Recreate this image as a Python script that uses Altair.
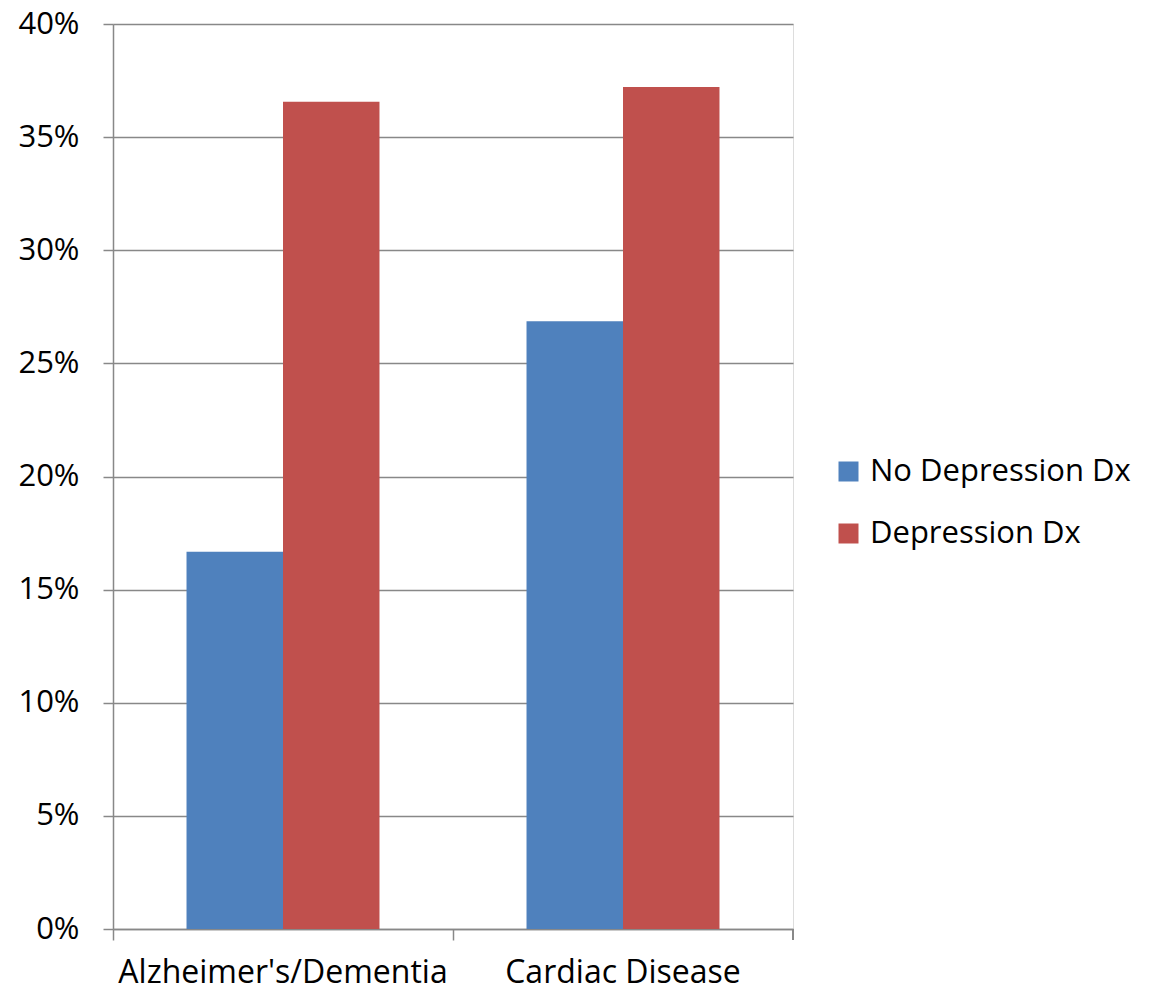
import altair as alt
import pandas as pd

categories = ["Alzheimer's/Dementia", "Cardiac Disease"]
series = ["No Depression Dx", "Depression Dx"]
no_depression = [0.1667, 0.2686]
depression = [0.3656, 0.3722]
colors = ["#4F81BD", "#C0504D"]
y_ticks = [0, 0.05, 0.10, 0.15, 0.20, 0.25, 0.30, 0.35, 0.40]

rows = []
for i, c in enumerate(categories):
    rows.append({"category": c, "series": series[0], "value": no_depression[i]})
    rows.append({"category": c, "series": series[1], "value": depression[i]})
df = pd.DataFrame(rows)

FONT = "Open Sans"
AXIS_GRAY = "#888888"
FS = 31

bars = alt.Chart(df).mark_bar().encode(
    x=alt.X("category:N", sort=categories, title=None,
            scale=alt.Scale(paddingInner=0, paddingOuter=0),
            axis=alt.Axis(labelAngle=0, bandPosition=0, domainColor=AXIS_GRAY,
                          tickColor=AXIS_GRAY, tickSize=11, tickWidth=1.5, domainWidth=1.5,
                          labelFontSize=32, labelFont=FONT, labelColor="#000000",
                          labelPadding=17, labelLimit=0)),
    xOffset=alt.XOffset("series:N", sort=series,
                        scale=alt.Scale(paddingInner=0, paddingOuter=0.762)),
    y=alt.Y("value:Q", title=None,
            scale=alt.Scale(domain=[0, 0.4], nice=False),
            axis=alt.Axis(values=y_ticks, format=".0%", grid=True, gridColor=AXIS_GRAY,
                          gridWidth=1.5, domainColor=AXIS_GRAY, domainWidth=1.5,
                          tickColor=AXIS_GRAY, tickSize=10, tickWidth=1.5,
                          labelFontSize=FS, labelFont=FONT, labelColor="#000000",
                          labelPadding=24, labelLimit=0)),
    color=alt.Color("series:N", sort=series,
                    scale=alt.Scale(domain=series, range=colors),
                    legend=alt.Legend(title=None, orient="none", legendX=720, legendY=432,
                                      symbolType="square", symbolSize=400,
                                      symbolStrokeWidth=0, labelFontSize=FS,
                                      labelFont=FONT, labelColor="#000000",
                                      rowPadding=30, labelOffset=6, labelLimit=0)),
)

end_tick = alt.Chart(df).mark_rule(color=AXIS_GRAY, strokeWidth=1.5).encode(
    x=alt.value(680), y=alt.value(905), y2=alt.value(916)
)

chart = alt.layer(bars, end_tick).properties(
    width=680, height=905,
    autosize=alt.AutoSizeParams(type="none"),
    padding={"left": 105, "top": 16, "right": 350, "bottom": 63},
).configure_view(stroke=None).configure(background="white")

chart.save("out.html", embed_options={"renderer": "svg", "actions": False})
